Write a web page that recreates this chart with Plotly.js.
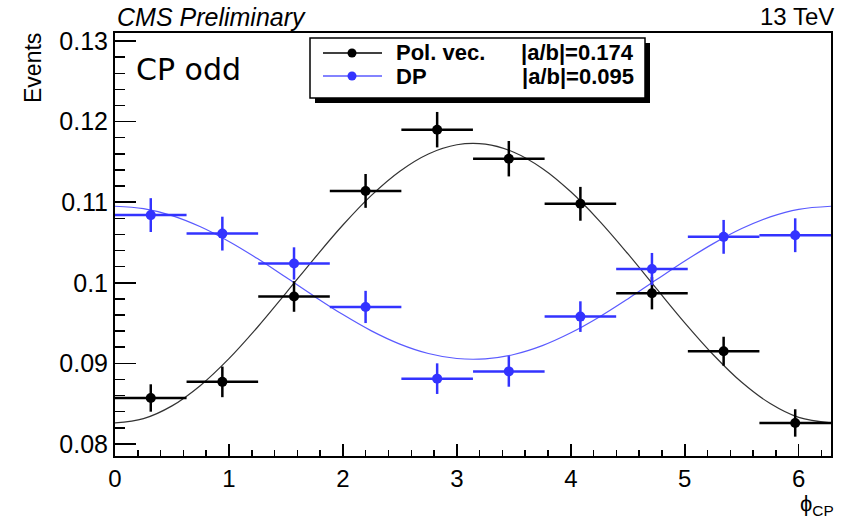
<!DOCTYPE html>
<html>
<head>
<meta charset="utf-8">
<script src="https://cdn.plot.ly/plotly-3.0.1.min.js"></script>
<style>html,body{margin:0;padding:0;background:#fff;}#chart{width:843px;height:518px;}</style>
</head>
<body>
<div id="chart"></div>
<script>
// ---- data ----
const binCenters   = [0.314, 0.942, 1.571, 2.199, 2.827, 3.456, 4.084, 4.712, 5.341, 5.969];
const binHalfWidth = [0.314, 0.314, 0.314, 0.314, 0.314, 0.314, 0.314, 0.314, 0.314, 0.314];
const polVals = [0.0857, 0.0877, 0.0983, 0.1114, 0.1190, 0.1154, 0.1098, 0.0987, 0.0915, 0.0826];
const polErr  = [0.0017, 0.0019, 0.0019, 0.0021, 0.0022, 0.0022, 0.0021, 0.0020, 0.0018, 0.0017];
const dpVals  = [0.1084, 0.1061, 0.1024, 0.0970, 0.0881, 0.0890, 0.0958, 0.1017, 0.1057, 0.1059];
const dpErr   = [0.0021, 0.0021, 0.0020, 0.0020, 0.0019, 0.0019, 0.0019, 0.0020, 0.0021, 0.0021];

const fitX = [0, 0.25, 0.5, 0.75, 1.0, 1.25, 1.5, 1.75, 2.0, 2.25, 2.5, 2.75, 3.0, 3.25, 3.5, 3.75, 4.0, 4.25, 4.5, 4.75, 5.0, 5.25, 5.5, 5.75, 6.0, 6.283];
const polFit = [0.08260, 0.08314, 0.08472, 0.08726, 0.09058, 0.09448, 0.09872, 0.10304, 0.10717, 0.11085, 0.11385, 0.11599, 0.11713, 0.11720, 0.11620, 0.11419, 0.11129, 0.10769, 0.10361, 0.09930, 0.09503, 0.09107, 0.08765, 0.08501, 0.08329, 0.08260];
const dpFit  = [0.10950, 0.10920, 0.10834, 0.10695, 0.10513, 0.10300, 0.10067, 0.09831, 0.09605, 0.09403, 0.09239, 0.09122, 0.09060, 0.09056, 0.09110, 0.09220, 0.09379, 0.09576, 0.09800, 0.10036, 0.10270, 0.10486, 0.10673, 0.10818, 0.10912, 0.10950];

const seriesNames = ["Pol. vec.", "DP"];
const ratioLabels = ["|a/b|=0.174", "|a/b|=0.095"];
const xTickVals = [0, 1, 2, 3, 4, 5, 6];
const yTickVals = [0.08, 0.09, 0.1, 0.11, 0.12, 0.13];
const yTickText = ["0.08", "0.09", "0.1", "0.11", "0.12", "0.13"];

// ---- styles ----
const BLUE = '#3333ff';
const BLUEFIT = '#5a5aff';
const W = 843, H = 518;
const M = {l: 115, r: 12, t: 33, b: 62};
const pw = W - M.l - M.r, ph = H - M.t - M.b;
const px = x => (x - M.l) / pw;
const py = y => (H - M.b - y) / ph;
const FONT = 'Liberation Sans, Arial, Helvetica, sans-serif';

const traces = [
  {x: fitX, y: polFit, mode: 'lines', line: {color: '#333', width: 1.2, shape: 'spline'}, hoverinfo: 'skip', showlegend: false},
  {x: fitX, y: dpFit, mode: 'lines', line: {color: BLUEFIT, width: 1.2, shape: 'spline'}, hoverinfo: 'skip', showlegend: false},
  {x: binCenters, y: polVals, mode: 'markers', name: seriesNames[0],
   marker: {color: 'black', size: 10},
   error_x: {type: 'data', array: binHalfWidth, color: 'black', thickness: 2.5, width: 0},
   error_y: {type: 'data', array: polErr, color: 'black', thickness: 2.5, width: 0}, showlegend: false},
  {x: binCenters, y: dpVals, mode: 'markers', name: seriesNames[1],
   marker: {color: BLUE, size: 10},
   error_x: {type: 'data', array: binHalfWidth, color: BLUE, thickness: 2.5, width: 0},
   error_y: {type: 'data', array: dpErr, color: BLUE, thickness: 2.5, width: 0}, showlegend: false}
];

// legend (drawn by hand, ROOT style)
const lx0 = 310, lx1 = 645, ly0 = 38, ly1 = 98;
const rowY = [53, 76];
const shapes = [
  {type: 'rect', xref: 'paper', yref: 'paper', x0: px(lx0 + 5), x1: px(lx1 + 5), y0: py(ly0 + 5), y1: py(ly1 + 5), fillcolor: 'black', line: {width: 0}},
  {type: 'rect', xref: 'paper', yref: 'paper', x0: px(lx0), x1: px(lx1), y0: py(ly0), y1: py(ly1), fillcolor: 'white', line: {color: 'black', width: 1.5}}
];
const colors = ['black', BLUE];
const lineColors = ['black', BLUEFIT];
const annotations = [];
for (let i = 0; i < 2; i++) {
  shapes.push({type: 'line', xref: 'paper', yref: 'paper', x0: px(323), x1: px(382), y0: py(rowY[i]), y1: py(rowY[i]), line: {color: lineColors[i], width: 1.5}});
  shapes.push({type: 'circle', xref: 'paper', yref: 'paper', x0: px(347.5), x1: px(356.5), y0: py(rowY[i] - 4.5), y1: py(rowY[i] + 4.5), fillcolor: colors[i], line: {color: colors[i], width: 0}});
  annotations.push({xref: 'paper', yref: 'paper', x: px(394), y: py(rowY[i]), xanchor: 'left', yanchor: 'middle', showarrow: false,
    text: '<b>' + seriesNames[i] + '</b>', font: {family: FONT, size: 22, color: 'black'}});
  annotations.push({xref: 'paper', yref: 'paper', x: px(636), y: py(rowY[i]), xanchor: 'right', yanchor: 'middle', showarrow: false,
    text: '<b>' + ratioLabels[i] + '</b>', font: {family: FONT, size: 22, color: 'black'}});
}
annotations.push({xref: 'paper', yref: 'paper', x: px(115), y: py(17), xanchor: 'left', yanchor: 'middle', showarrow: false,
  text: '<i>CMS Preliminary</i>', font: {family: FONT, size: 25, color: 'black'}});
annotations.push({xref: 'paper', yref: 'paper', x: px(836), y: py(17), xanchor: 'right', yanchor: 'middle', showarrow: false,
  text: '13 TeV', font: {family: FONT, size: 24, color: 'black'}});
annotations.push({xref: 'paper', yref: 'paper', x: px(134), y: py(69), xanchor: 'left', yanchor: 'middle', showarrow: false,
  text: 'CP odd', font: {family: 'DejaVu Sans, sans-serif', size: 30, color: 'black'}});
annotations.push({xref: 'paper', yref: 'paper', x: px(836), y: py(505), xanchor: 'right', yanchor: 'middle', showarrow: false,
  text: 'ϕ<sub>CP</sub>', font: {family: FONT, size: 22, color: 'black'}});
annotations.push({xref: 'paper', yref: 'paper', x: px(33), y: py(31), xanchor: 'center', yanchor: 'top', showarrow: false, textangle: -90,
  text: 'Events', font: {family: FONT, size: 23, color: 'black'}});

const layout = {
  width: W, height: H,
  margin: M,
  paper_bgcolor: 'white', plot_bgcolor: 'white',
  showlegend: false,
  font: {family: FONT, color: 'black'},
  xaxis: {
    range: [0, 6.2832], tickvals: xTickVals, ticks: 'inside', ticklen: 12, tickwidth: 1.5, tickcolor: 'black',
    minor: {dtick: 0.2, ticks: 'inside', ticklen: 6, tickwidth: 1.5, tickcolor: 'black', tick0: 0},
    showline: true, linecolor: 'black', linewidth: 2, mirror: true, showgrid: false, zeroline: false,
    tickfont: {family: FONT, size: 24, color: 'black'}
  },
  yaxis: {
    range: [0.0785, 0.131], tickvals: yTickVals, ticktext: yTickText, ticks: 'inside', ticklen: 21, tickwidth: 1.5, tickcolor: 'black',
    minor: {dtick: 0.002, tick0: 0.08, ticks: 'inside', ticklen: 10, tickwidth: 1.5, tickcolor: 'black'},
    showline: true, linecolor: 'black', linewidth: 2, mirror: true, showgrid: false, zeroline: false,
    tickfont: {family: FONT, size: 25, color: 'black'}
  },
  shapes: shapes,
  annotations: annotations
};

Plotly.newPlot('chart', traces, layout, {displayModeBar: false, staticPlot: true});
</script>
</body>
</html>
